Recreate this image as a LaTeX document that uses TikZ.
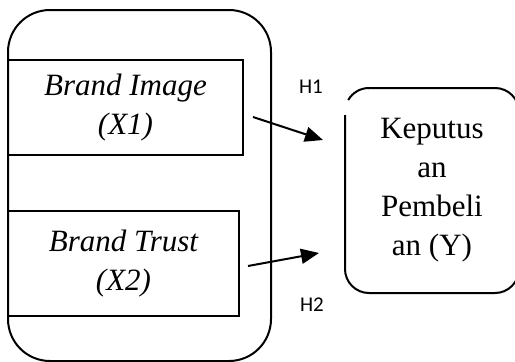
\documentclass[tikz,border=0pt]{standalone}
\usepackage{fontspec}
\setmainfont{Liberation Serif}
\newfontfamily\hfont{Carlito}
\usetikzlibrary{arrows.meta}
\begin{document}
\begin{tikzpicture}[x=1pt,y=-1pt,
  line width=2pt,
  varbox/.style={draw, rectangle, align=center, inner sep=0pt,
    font=\fontsize{31}{39}\selectfont\itshape},
  hlabel/.style={font=\hfont\fontsize{21}{24}\selectfont, inner sep=0pt},
  conn/.style={-{Triangle[length=18pt,width=15pt]}, line width=2pt}]
\useasboundingbox (0,0) rectangle (515,362);
\clip (0,0) rectangle (515,362);
% outer group box
\draw[rounded corners=42pt] (8,10) rectangle (271,361);
\node[varbox, minimum width=235pt, minimum height=95pt] (x1) at (125.5,107.5) {Brand Image\\(X1)};
\node[varbox, minimum width=231pt, minimum height=105pt] (x2) at (123.5,263.5) {Brand Trust\\(X2)};
% dependent variable box
\node[align=center, inner sep=0pt, minimum width=174pt, minimum height=205pt,
  font=\fontsize{31}{39}\selectfont] (y) at (432,190.5) {Keputus\\an\\Pembeli\\an (Y)};
\draw[rounded corners=24pt] (345,115) -- (345,293) -- (519,293) -- (519,88) -- (368,88);
\draw (369,88) arc[start angle=90, end angle=150, radius=24pt];
% connectors
\coordinate (s1) at (253,117);
\coordinate (t1) at (323,140);
\coordinate (s2) at (248,266);
\coordinate (t2) at (319,253);
\draw[conn] (s1) -- (t1);
\draw[conn] (s2) -- (t2);
\node[hlabel] (h1) at (311,87) {H1};
\node[hlabel] (h2) at (312,305) {H2};
\end{tikzpicture}
\end{document}
